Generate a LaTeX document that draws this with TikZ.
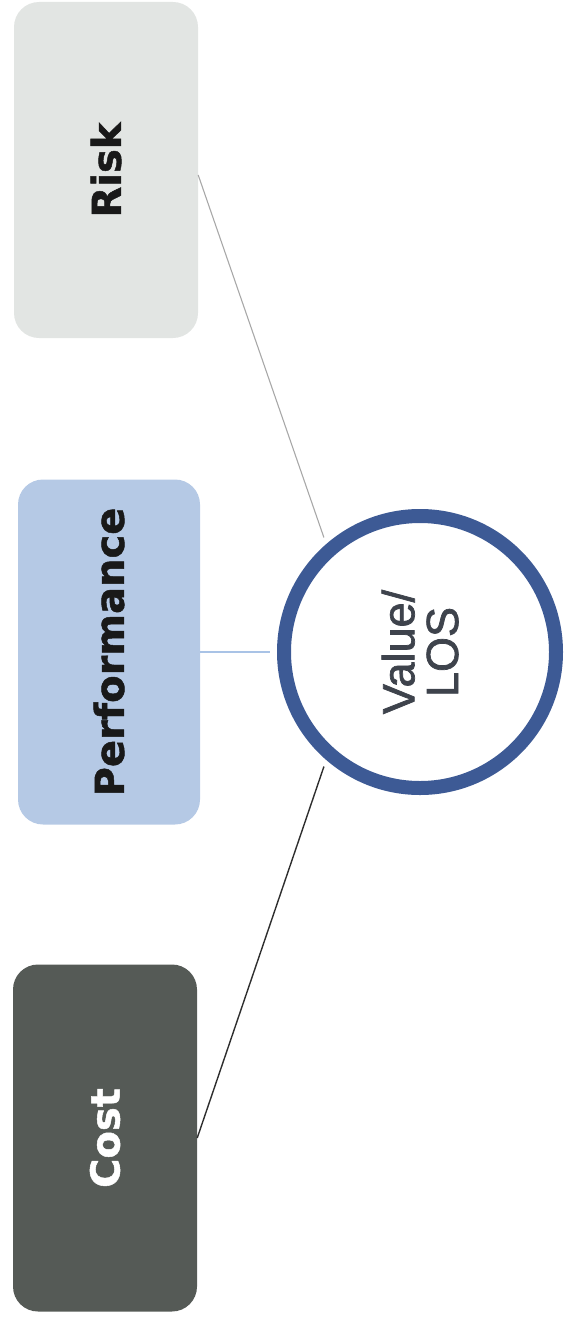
\documentclass[tikz,border=0pt]{standalone}
\usepackage{fontspec}
\usepackage{graphicx}
\newfontfamily\boxfont{DejaVu Sans}[BoldFeatures={FakeBold=1.2}]
\newfontfamily\circfont{Liberation Sans}[FakeBold=1.6]
\definecolor{riskfill}{HTML}{E2E5E3}
\definecolor{perffill}{HTML}{B5C9E5}
\definecolor{costfill}{HTML}{555A56}
\definecolor{ringblue}{HTML}{3D5A95}
\definecolor{valtext}{HTML}{3E434C}
\definecolor{risklink}{HTML}{A8A8A8}
\definecolor{perflink}{HTML}{A9C3E6}
\definecolor{costlink}{HTML}{2E2E2E}
\tikzset{
  factorbox/.style={rectangle, rounded corners=25pt, inner sep=0pt,
    minimum width=184pt, font=\boxfont\bfseries\fontsize{40}{40}\selectfont},
  hub/.style={circle, draw=ringblue, line width=14pt, inner sep=0pt,
    minimum size=272pt, text=valtext, font=\circfont\fontsize{45}{41}\selectfont},
  link/.style={line width=1.4pt, shorten >=7pt}
}
\begin{document}
\begin{tikzpicture}[x=1pt,y=-1pt]
\useasboundingbox (0,0) rectangle (571,1327);
\node[factorbox, fill=riskfill, minimum height=336pt, text=black!90] (risk) at (106,170) {\rotatebox{90}{Risk}};
\node[factorbox, fill=perffill, minimum width=182pt, minimum height=345pt, text=black!90] (perf) at (109,652) {\rotatebox{90}{Performance}};
\node[factorbox, fill=costfill, minimum height=347pt, text=white] (cost) at (105,1138) {\rotatebox{90}{Cost}};
\node[hub] (val) at (420,652) {\rotatebox{90}{\raisebox{-6pt}[\height][\depth]{\begin{tabular}{@{}c@{}}Value/\\LOS\end{tabular}}}};
\draw[link, draw=risklink, line width=1.1pt] ([yshift=-5pt]risk.east) -- (val.131);
\draw[link, draw=perflink] (perf.east) -- (val.180);
\draw[link, draw=costlink] (cost.east) -- (val.229);
\end{tikzpicture}
\end{document}
